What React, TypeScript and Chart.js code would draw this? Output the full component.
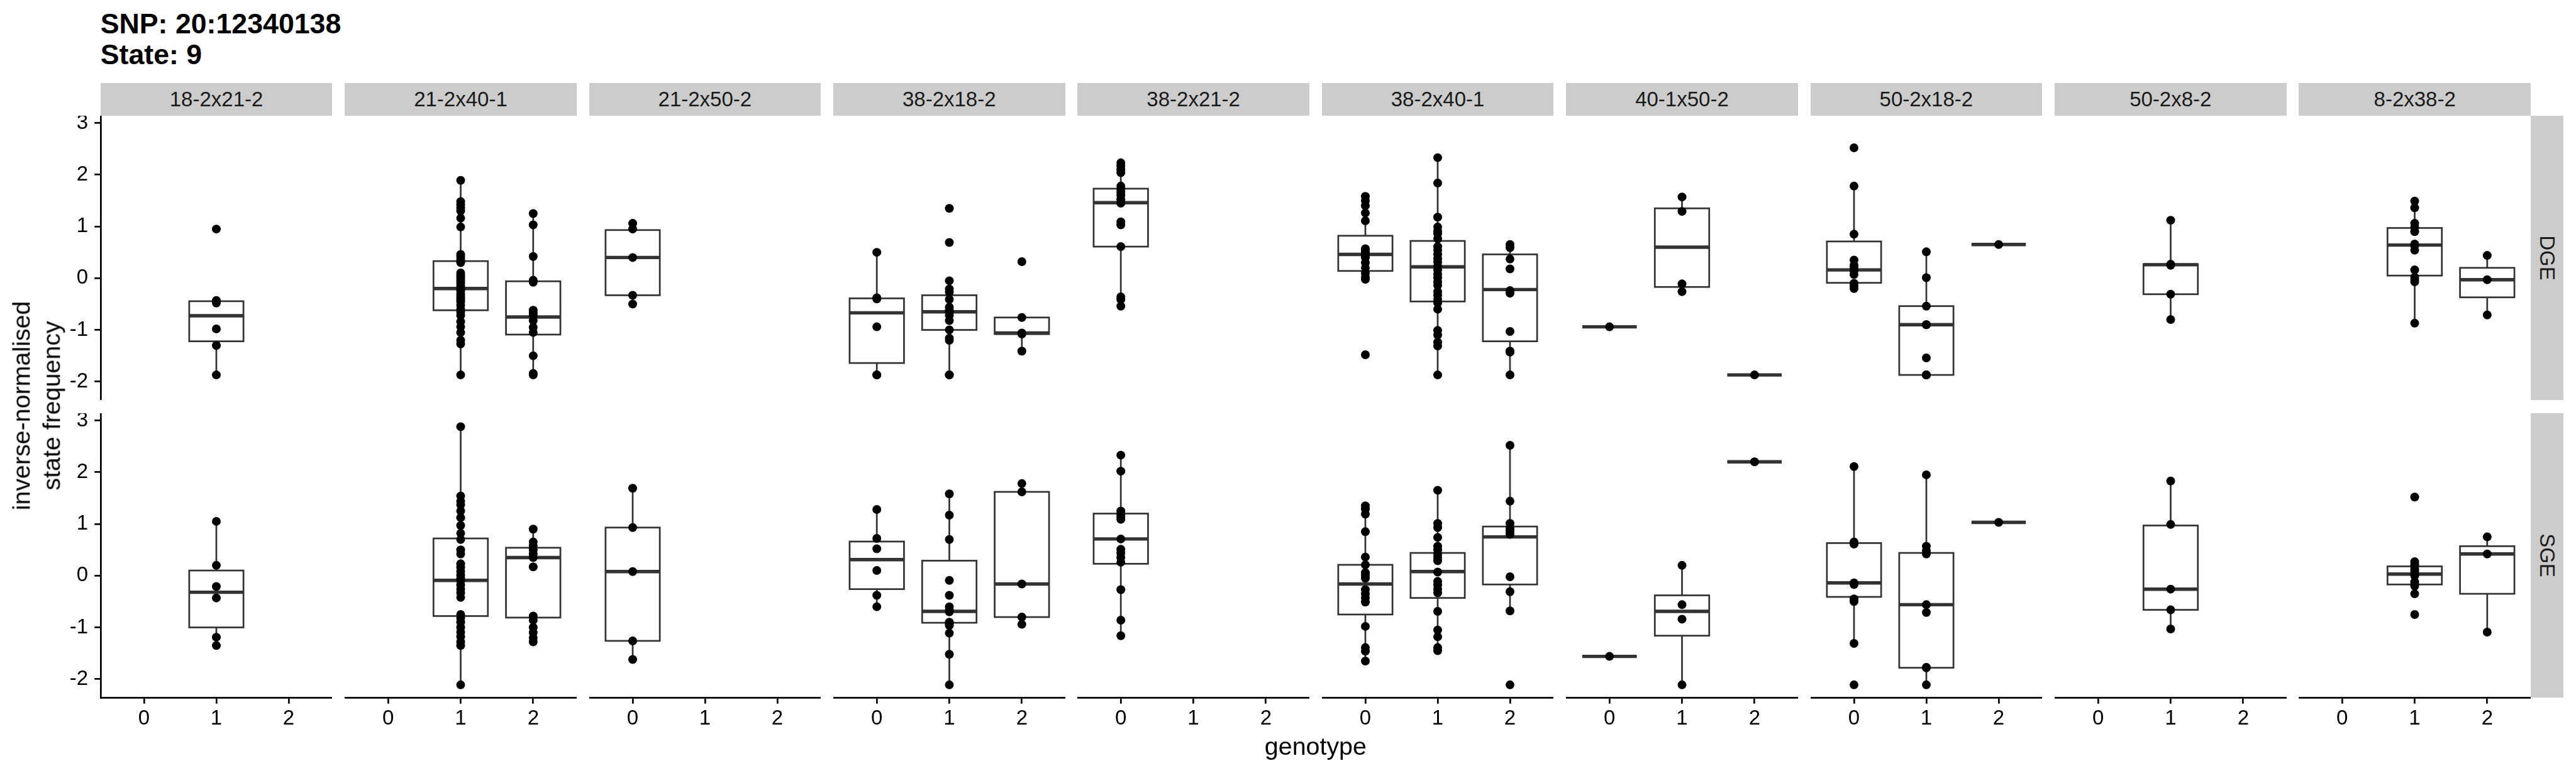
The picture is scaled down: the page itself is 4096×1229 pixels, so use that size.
import React, { useEffect, useRef } from 'react';
import { Chart, registerables } from 'chart.js';

Chart.register(...registerables);

// ---------------- text / categories ----------------
const TITLE_LINES = ['SNP: 20:12340138', 'State: 9'];
const FACETS = ['18-2x21-2', '21-2x40-1', '21-2x50-2', '38-2x18-2', '38-2x21-2', '38-2x40-1', '40-1x50-2', '50-2x18-2', '50-2x8-2', '8-2x38-2'];
const ROWS = ['DGE', 'SGE'];
const X_TICKS = [0, 1, 2];
const Y_TICKS = [-2, -1, 0, 1, 2, 3];
const X_TITLE = 'genotype';
const Y_TITLE = 'inverse-normalised\nstate frequency';
const X_RANGE = [-0.6, 2.6];
const Y_RANGE = [-2.355, 3.14];

// ---------------- DGE points: [genotype 0, genotype 1, genotype 2] ----------------
const dgePts_18_2x21_2 = [[], [0.95, -0.43, -0.48, -0.98, -1.3, -1.87], []];
const dgePts_21_2x40_1 = [[], [1.89, 1.48, 1.42, 1.36, 1.3, 1.16, 0.99, 0.46, 0.42, 0.38, 0.33, 0.3, 0.1, 0.05, 0.0, -0.05, -0.1, -0.15, -0.2, -0.22, -0.25, -0.3, -0.35, -0.4, -0.45, -0.52, -0.6, -0.65, -0.72, -0.84, -0.94, -1.05, -1.2, -1.27, -1.87], [1.25, 1.03, 0.42, -0.04, -0.08, -0.62, -0.67, -0.72, -0.82, -0.95, -1.05, -1.5, -1.84, -1.87]];
const dgePts_21_2x50_2 = [[1.06, 0.95, 0.4, -0.33, -0.5], [], []];
const dgePts_38_2x18_2 = [[0.5, -0.38, -0.4, -0.94, -1.87, -1.87], [1.35, 0.69, -0.05, -0.21, -0.27, -0.41, -0.56, -0.62, -0.66, -0.72, -0.82, -1.0, -1.16, -1.2, -1.87, -1.87], [0.32, -0.76, -1.06, -1.08, -1.41]];
const dgePts_38_2x21_2 = [[2.23, 2.17, 2.1, 2.04, 1.78, 1.72, 1.66, 1.6, 1.52, 1.45, 1.09, 1.03, 0.61, -0.36, -0.41, -0.54], [], []];
const dgePts_38_2x40_1 = [[1.58, 1.5, 1.4, 1.26, 1.11, 0.57, 0.53, 0.5, 0.46, 0.44, 0.4, 0.3, 0.2, 0.1, 0.02, -0.02, -1.48], [2.33, 1.84, 1.18, 0.99, 0.91, 0.86, 0.76, 0.61, 0.54, 0.46, 0.38, 0.31, 0.23, 0.16, 0.08, 0.01, -0.07, -0.14, -0.26, -0.33, -0.41, -0.48, -0.6, -1.01, -1.1, -1.24, -1.31, -1.87], [0.65, 0.59, 0.37, 0.18, -0.24, -0.29, -1.03, -1.41, -1.43, -1.87]];
const dgePts_40_1x50_2 = [[-0.94], [1.57, 1.29, -0.11, -0.26], [-1.87]];
const dgePts_50_2x18_2 = [[2.52, 1.78, 0.85, 0.35, 0.25, 0.2, 0.14, 0.07, -0.1, -0.15, -0.2], [0.51, 0.01, -0.54, -0.9, -0.9, -1.54, -1.87, -1.87, -1.87], [0.65]];
const dgePts_50_2x8_2 = [[], [1.12, 0.27, 0.25, -0.31, -0.8], []];
const dgePts_8_2x38_2 = [[], [1.49, 1.36, 1.06, 0.98, 0.9, 0.66, 0.63, 0.54, 0.16, 0.02, -0.03, -0.07, -0.87], [0.44, -0.03, -0.71]];

// ---------------- SGE points ----------------
const sgePts_18_2x21_2 = [[], [1.05, 0.2, -0.21, -0.43, -1.19, -1.35], []];
const sgePts_21_2x40_1 = [[], [2.88, 1.54, 1.44, 1.37, 1.25, 1.12, 0.97, 0.82, 0.7, 0.5, 0.42, 0.23, 0.16, 0.08, 0.01, -0.05, -0.1, -0.18, -0.26, -0.33, -0.42, -0.75, -0.82, -0.9, -1.0, -1.09, -1.18, -1.28, -1.35, -2.11], [0.9, 0.65, 0.58, 0.5, 0.42, 0.35, 0.17, -0.78, -0.86, -1.0, -1.1, -1.2, -1.28]];
const sgePts_21_2x50_2 = [[1.69, 0.93, 0.08, -1.26, -1.62], [], []];
const sgePts_38_2x18_2 = [[1.28, 0.72, 0.52, 0.1, -0.38, -0.6], [1.58, 1.17, 0.7, -0.09, -0.38, -0.6, -0.66, -0.7, -0.9, -0.93, -0.96, -1.11, -1.52, -2.11], [1.78, 1.62, -0.16, -0.8, -0.94]];
const sgePts_38_2x21_2 = [[2.33, 2.02, 1.25, 1.19, 1.14, 1.09, 0.71, 0.51, 0.44, 0.35, 0.26, -0.27, -0.86, -1.16], [], []];
const sgePts_38_2x40_1 = [[1.35, 1.29, 1.19, 0.85, 0.36, 0.21, 0.06, 0.01, -0.05, -0.27, -0.35, -0.43, -0.51, -0.98, -1.39, -1.46, -1.65], [1.65, 1.01, 0.93, 0.74, 0.57, 0.5, 0.42, 0.35, 0.29, 0.07, -0.11, -0.18, -0.26, -0.33, -0.69, -1.05, -1.18, -1.39, -1.45], [2.52, 1.44, 1.01, 0.91, 0.86, 0.8, -0.02, -0.31, -0.68, -2.11]];
const sgePts_40_1x50_2 = [[-1.56], [0.2, -0.56, -0.84, -2.11], [2.2]];
const sgePts_50_2x18_2 = [[2.11, 0.65, 0.61, -0.14, -0.17, -0.45, -0.5, -1.31, -2.11], [1.95, 0.57, 0.48, 0.42, -0.56, -0.71, -1.77, -1.78, -2.11], [1.03]];
const sgePts_50_2x8_2 = [[], [1.83, 0.99, -0.26, -0.66, -1.03], []];
const sgePts_8_2x38_2 = [[], [1.52, 0.27, 0.22, 0.18, 0.12, 0.08, 0.03, 0.0, -0.12, -0.17, -0.2, -0.35, -0.75], [0.75, 0.42, -1.09]];

// ---------------- DGE box stats [lower whisker, q1, median, q3, upper whisker] ----------------
const dgeBox_18_2x21_2 = [null, [-1.87, -1.22, -0.725, -0.445, -0.43], null];
const dgeBox_21_2x40_1 = [null, [-1.87, -0.62, -0.2, 0.33, 1.89], [-1.87, -1.09, -0.75, -0.06, 1.25]];
const dgeBox_21_2x50_2 = [[-0.5, -0.33, 0.4, 0.93, 1.06], null, null];
const dgeBox_38_2x18_2 = [[-1.87, -1.64, -0.67, -0.39, 0.5], [-1.87, -1.0, -0.65, -0.33, -0.05], [-1.41, -1.08, -1.06, -0.76, -0.76]];
const dgeBox_38_2x21_2 = [[-0.54, 0.61, 1.46, 1.73, 2.23], null, null];
const dgeBox_38_2x40_1 = [[-0.02, 0.14, 0.46, 0.82, 1.58], [-1.87, -0.45, 0.22, 0.72, 2.33], [-1.87, -1.22, -0.22, 0.46, 0.65]];
const dgeBox_40_1x50_2 = [[-0.94, -0.94, -0.94, -0.94, -0.94], [-0.26, -0.17, 0.6, 1.35, 1.57], [-1.87, -1.87, -1.87, -1.87, -1.87]];
const dgeBox_50_2x18_2 = [[-0.2, -0.09, 0.16, 0.71, 1.78], [-1.87, -1.87, -0.9, -0.54, 0.51], [0.65, 0.65, 0.65, 0.65, 0.65]];
const dgeBox_50_2x8_2 = [null, [-0.8, -0.31, 0.26, 0.27, 1.12], null];
const dgeBox_8_2x38_2 = [null, [-0.87, 0.05, 0.64, 0.97, 1.49], [-0.71, -0.37, -0.03, 0.2, 0.44]];

// ---------------- SGE box stats ----------------
const sgeBox_18_2x21_2 = [null, [-1.35, -1.0, -0.32, 0.1, 1.05], null];
const sgeBox_21_2x40_1 = [null, [-2.11, -0.78, -0.09, 0.72, 2.88], [-1.28, -0.81, 0.35, 0.54, 0.9]];
const sgeBox_21_2x50_2 = [[-1.62, -1.26, 0.08, 0.93, 1.69], null, null];
const sgeBox_38_2x18_2 = [[-0.6, -0.26, 0.31, 0.66, 1.28], [-2.11, -0.91, -0.69, 0.29, 1.58], [-0.94, -0.8, -0.16, 1.62, 1.78]];
const sgeBox_38_2x21_2 = [[-1.16, 0.23, 0.71, 1.2, 2.33], null, null];
const sgeBox_38_2x40_1 = [[-1.65, -0.75, -0.16, 0.21, 1.35], [-1.45, -0.43, 0.08, 0.44, 1.65], [-0.68, -0.17, 0.75, 0.95, 2.52]];
const sgeBox_40_1x50_2 = [[-1.56, -1.56, -1.56, -1.56, -1.56], [-2.11, -1.16, -0.69, -0.38, 0.2], [2.2, 2.2, 2.2, 2.2, 2.2]];
const sgeBox_50_2x18_2 = [[-1.31, -0.41, -0.14, 0.63, 2.11], [-2.11, -1.78, -0.56, 0.44, 1.95], [1.03, 1.03, 1.03, 1.03, 1.03]];
const sgeBox_50_2x8_2 = [null, [-1.03, -0.66, -0.26, 0.97, 1.83], null];
const sgeBox_8_2x38_2 = [null, [-0.35, -0.17, 0.03, 0.18, 0.27], [-1.09, -0.35, 0.42, 0.57, 0.75]];

const DGE_POINTS = [dgePts_18_2x21_2, dgePts_21_2x40_1, dgePts_21_2x50_2, dgePts_38_2x18_2, dgePts_38_2x21_2, dgePts_38_2x40_1, dgePts_40_1x50_2, dgePts_50_2x18_2, dgePts_50_2x8_2, dgePts_8_2x38_2];
const SGE_POINTS = [sgePts_18_2x21_2, sgePts_21_2x40_1, sgePts_21_2x50_2, sgePts_38_2x18_2, sgePts_38_2x21_2, sgePts_38_2x40_1, sgePts_40_1x50_2, sgePts_50_2x18_2, sgePts_50_2x8_2, sgePts_8_2x38_2];
const DGE_BOXES = [dgeBox_18_2x21_2, dgeBox_21_2x40_1, dgeBox_21_2x50_2, dgeBox_38_2x18_2, dgeBox_38_2x21_2, dgeBox_38_2x40_1, dgeBox_40_1x50_2, dgeBox_50_2x18_2, dgeBox_50_2x8_2, dgeBox_8_2x38_2];
const SGE_BOXES = [sgeBox_18_2x21_2, sgeBox_21_2x40_1, sgeBox_21_2x50_2, sgeBox_38_2x18_2, sgeBox_38_2x21_2, sgeBox_38_2x40_1, sgeBox_40_1x50_2, sgeBox_50_2x18_2, sgeBox_50_2x8_2, sgeBox_8_2x38_2];

// ---------------- layout (reference pixels, scaled by S) ----------------
const S = 4096 / 8000;
const FONT = '"Liberation Sans", Arial, Helvetica, sans-serif';
const PANEL_X0 = 312;
const PANEL_PITCH = 758.6;
const PANEL_W = 720;
const ROW_Y = [360, 1283];
const PANEL_H = 883;
const STRIP_Y = 258;
const STRIP_H = 102;
const Y_AXIS_CANVAS_X = 190;
const X_AXIS_EXTRA = 130;
const TICK_LEN = 19 * S;
const AXIS_LW = 5.3 * S;
const BOX_LW = 5.3 * S;
const BOX_WIDTH = 0.75;
const POINT_R = 7;
const TICK_FONT = 33;
const TITLE_FONT = 44.7;
const AXIS_TITLE_FONT = 39.4;
const BOX_COLOR = '#333333';
const STRIP_FILL = '#CCCCCC';

Chart.defaults.font.family = FONT;

function makeBoxPlugin(stats: any[]) {
  return {
    id: 'ggBoxes',
    beforeDatasetsDraw(chart: any) {
      const ctx = chart.ctx;
      const xs = chart.scales.x;
      const ys = chart.scales.y;
      ctx.save();
      ctx.strokeStyle = BOX_COLOR;
      ctx.lineCap = 'butt';
      ctx.lineJoin = 'miter';
      stats.forEach((st: number[] | null, g: number) => {
        if (!st) return;
        const [lo, q1, med, q3, hi] = st;
        const gx = X_TICKS[g];
        const xc = xs.getPixelForValue(gx);
        const xl = xs.getPixelForValue(gx - BOX_WIDTH / 2);
        const xr = xs.getPixelForValue(gx + BOX_WIDTH / 2);
        const yLo = ys.getPixelForValue(lo);
        const yQ1 = ys.getPixelForValue(q1);
        const yMed = ys.getPixelForValue(med);
        const yQ3 = ys.getPixelForValue(q3);
        const yHi = ys.getPixelForValue(hi);
        ctx.lineWidth = BOX_LW;
        ctx.beginPath();
        ctx.moveTo(xc, yQ3);
        ctx.lineTo(xc, yHi);
        ctx.moveTo(xc, yQ1);
        ctx.lineTo(xc, yLo);
        ctx.stroke();
        ctx.fillStyle = '#ffffff';
        ctx.fillRect(xl, yQ3, xr - xl, yQ1 - yQ3);
        ctx.strokeRect(xl, yQ3, xr - xl, yQ1 - yQ3);
        ctx.lineWidth = BOX_LW * 2;
        ctx.beginPath();
        ctx.moveTo(xl, yMed);
        ctx.lineTo(xr, yMed);
        ctx.stroke();
      });
      ctx.restore();
    },
  };
}

function axisOptions(show: boolean, isX: boolean, size: number) {
  return {
    type: 'linear',
    display: show,
    bounds: 'data',
    min: isX ? X_RANGE[0] : Y_RANGE[0],
    max: isX ? X_RANGE[1] : Y_RANGE[1],
    afterBuildTicks: (s: any) => {
      s.ticks = (isX ? X_TICKS : Y_TICKS).map((v) => ({ value: v }));
    },
    afterFit: (s: any) => {
      if (isX) s.height = size;
      else s.width = size;
      s.paddingTop = 0;
      s.paddingBottom = 0;
      s.paddingLeft = 0;
      s.paddingRight = 0;
    },
    grid: {
      display: true,
      drawOnChartArea: false,
      drawTicks: true,
      tickLength: TICK_LEN,
      color: '#000000',
      lineWidth: AXIS_LW,
    },
    border: { display: true, color: '#000000', width: AXIS_LW },
    ticks: {
      display: true,
      autoSkip: false,
      maxRotation: 0,
      minRotation: 0,
      padding: isX ? 4 : 20 * S,
      color: '#000000',
      font: { size: TICK_FONT, family: FONT },
      callback: (v: any) => String(v),
    },
  };
}

function Panel({ r, c }: { r: number; c: number }) {
  const ref = useRef<HTMLCanvasElement>(null);
  const isLeft = c === 0;
  const isBottom = r === 1;
  const px = PANEL_X0 + c * PANEL_PITCH;
  const L = Math.round((isLeft ? Y_AXIS_CANVAS_X : px) * S);
  const PL = Math.round(px * S);
  const R = Math.round((px + PANEL_W) * S);
  const T = Math.round(ROW_Y[r] * S);
  const PB = Math.round((ROW_Y[r] + PANEL_H) * S);
  const B = isBottom ? Math.round((ROW_Y[r] + PANEL_H + X_AXIS_EXTRA) * S) : PB;
  const w = R - L;
  const h = B - T;
  const yAxisW = PL - L;
  const xAxisH = B - PB;

  useEffect(() => {
    const pts = (r === 0 ? DGE_POINTS : SGE_POINTS)[c];
    const boxes = (r === 0 ? DGE_BOXES : SGE_BOXES)[c];
    const data: { x: number; y: number }[] = [];
    pts.forEach((arr, g) => arr.forEach((v) => data.push({ x: X_TICKS[g], y: v })));
    const chart = new Chart(ref.current as HTMLCanvasElement, {
      type: 'scatter',
      data: {
        datasets: [
          {
            data,
            pointRadius: POINT_R,
            pointHoverRadius: POINT_R,
            pointBackgroundColor: '#000000',
            pointBorderColor: '#000000',
            pointBorderWidth: 0,
            showLine: false,
          } as any,
        ],
      },
      options: {
        animation: false,
        responsive: false,
        events: [],
        layout: { padding: 0, autoPadding: false } as any,
        plugins: { legend: { display: false }, tooltip: { enabled: false }, title: { display: false } },
        scales: {
          x: axisOptions(isBottom, true, xAxisH) as any,
          y: axisOptions(isLeft, false, yAxisW) as any,
        },
      },
      plugins: [makeBoxPlugin(boxes) as any],
    });
    return () => chart.destroy();
  }, []);

  return (
    <canvas
      ref={ref}
      width={w}
      height={h}
      style={{ position: 'absolute', left: L, top: T, width: w, height: h, display: 'block' }}
    />
  );
}

export default function App() {
  const titleBase = [105 * S, 200 * S];
  const panels: JSX.Element[] = [];
  ROWS.forEach((_, r) => FACETS.forEach((__, c) => panels.push(<Panel key={`${r}-${c}`} r={r} c={c} />)));
  const rightX = (PANEL_X0 + 9 * PANEL_PITCH + PANEL_W) * S;
  return (
    <div
      style={{
        position: 'absolute',
        left: 0,
        top: 0,
        width: 4096,
        height: 1229,
        overflow: 'hidden',
        background: '#ffffff',
        fontFamily: FONT,
        color: '#000000',
      }}
    >
      {TITLE_LINES.map((t, i) => (
        <div
          key={t}
          style={{
            position: 'absolute',
            left: PANEL_X0 * S,
            top: titleBase[i] - 0.8465 * TITLE_FONT,
            fontSize: TITLE_FONT,
            lineHeight: `${TITLE_FONT}px`,
            fontWeight: 'bold',
            whiteSpace: 'nowrap',
          }}
        >
          {t}
        </div>
      ))}
      {FACETS.map((f, c) => (
        <div
          key={f}
          style={{
            position: 'absolute',
            left: (PANEL_X0 + c * PANEL_PITCH) * S,
            top: STRIP_Y * S,
            width: PANEL_W * S,
            height: STRIP_H * S,
            background: STRIP_FILL,
            display: 'flex',
            alignItems: 'center',
            justifyContent: 'center',
            fontSize: TICK_FONT,
            color: '#1A1A1A',
            whiteSpace: 'nowrap',
          }}
        >
          {f}
        </div>
      ))}
      {ROWS.map((rname, r) => (
        <div
          key={rname}
          style={{
            position: 'absolute',
            left: rightX,
            top: ROW_Y[r] * S,
            width: STRIP_H * S,
            height: PANEL_H * S,
            background: STRIP_FILL,
          }}
        >
          <div
            style={{
              position: 'absolute',
              left: '50%',
              top: '50%',
              transform: 'translate(-50%, -50%) rotate(90deg)',
              fontSize: TICK_FONT,
              lineHeight: `${TICK_FONT}px`,
              color: '#1A1A1A',
              whiteSpace: 'nowrap',
            }}
          >
            {rname}
          </div>
        </div>
      ))}
      {panels}
      <div
        style={{
          position: 'absolute',
          left: 58.1,
          top: 645,
          transform: 'translate(-50%, -50%) rotate(-90deg)',
          fontSize: AXIS_TITLE_FONT,
          lineHeight: '47.6px',
          whiteSpace: 'pre',
          textAlign: 'center',
        }}
      >
        {Y_TITLE}
      </div>
      <div
        style={{
          position: 'absolute',
          left: ((PANEL_X0 + 9 * PANEL_PITCH + PANEL_W + PANEL_X0) / 2) * S,
          top: 2345 * S - 0.8465 * AXIS_TITLE_FONT,
          transform: 'translateX(-50%)',
          fontSize: AXIS_TITLE_FONT,
          lineHeight: `${AXIS_TITLE_FONT}px`,
          whiteSpace: 'nowrap',
        }}
      >
        {X_TITLE}
      </div>
    </div>
  );
}
